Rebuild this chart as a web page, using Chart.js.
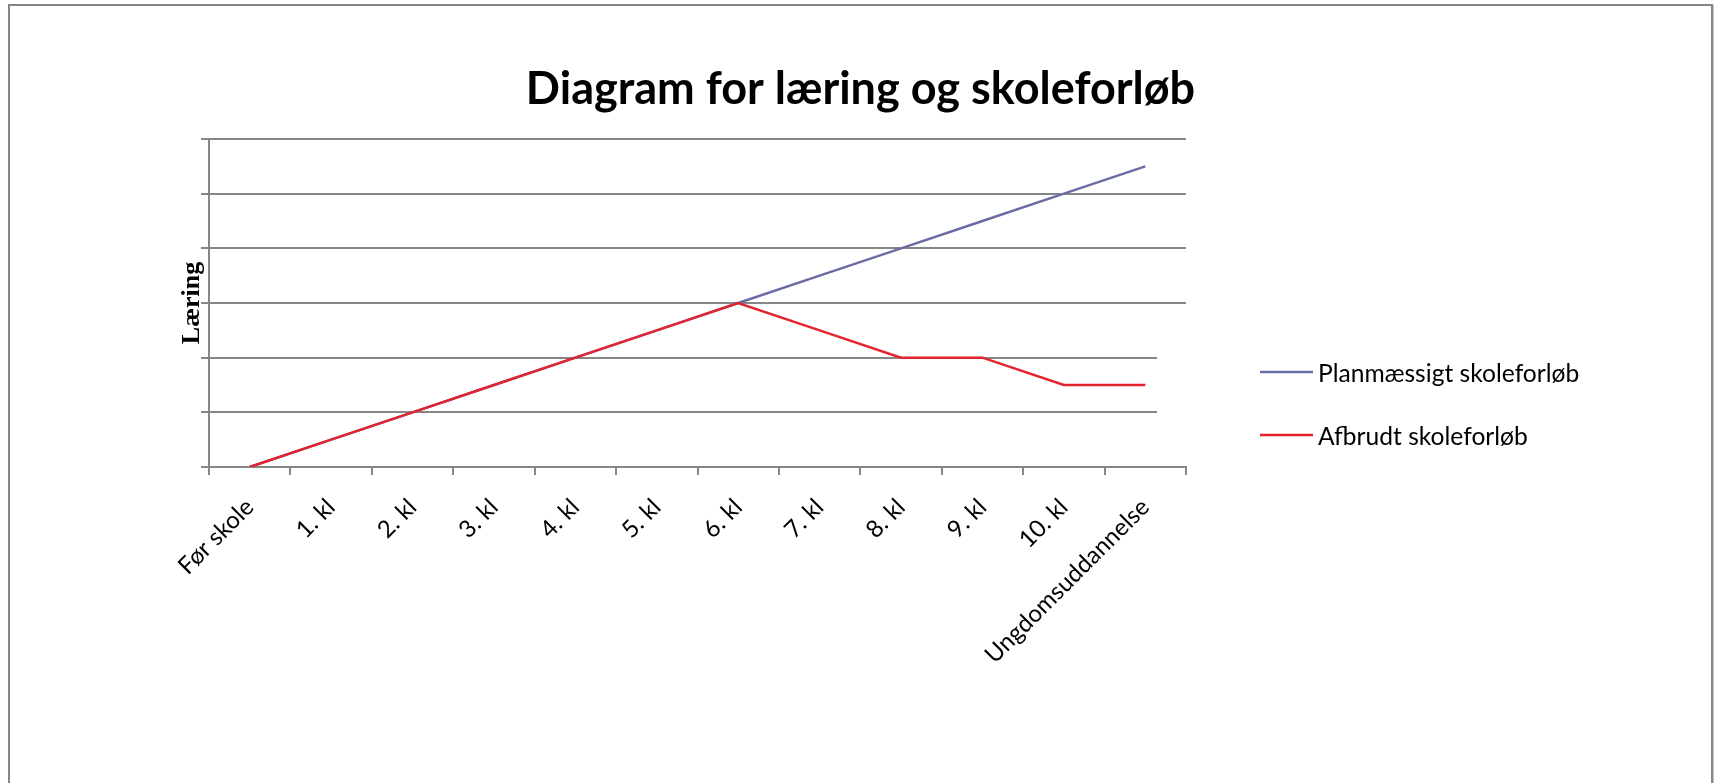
<!DOCTYPE html>
<html>
<head>
<meta charset="utf-8">
<script src="https://cdn.jsdelivr.net/npm/chart.js@4"></script>
<style>
  html, body { margin: 0; padding: 0; background: #fff; overflow: hidden; }
  #frame { position: absolute; left: 8px; top: 4px; width: 1701px; height: 820px; border: 2px solid #858585; box-shadow: 1px 1px 0 #c8c8c8; }
  #wrap { position: absolute; left: 0; top: 0; width: 1701px; height: 662px; }
</style>
</head>
<body>
<div id="frame">
  <div id="wrap"><canvas id="graphCanvas"></canvas></div>
</div>
<script>
// kategorier langs x-aksen
const categories = ['Før skole', '1. kl', '2. kl', '3. kl', '4. kl', '5. kl', '6. kl', '7. kl', '8. kl', '9. kl', '10. kl', 'Ungdomsuddannelse'];
// læring pr. trin
const plannedValues = [0, 0.5, 1, 1.5, 2, 2.5, 3, 3.5, 4, 4.5, 5, 5.5];
const interruptedValues = [0, 0.5, 1, 1.5, 2, 2.5, 3, 2.5, 2, 2, 1.5, 1.5];
const seriesNames = ['Planmæssigt skoleforløb', 'Afbrudt skoleforløb'];

const gridGray = '#868686';

// legende til højre, som Excel tegner den (hvid boks over enden af gitterlinjerne)
const excelLegend = {
    id: 'excelLegend',
    beforeDatasetsDraw(chart) {
        let y = chart.scales.y;
        let ctx = chart.ctx;
        ctx.save();
        ctx.fillStyle = '#fff';
        let top = y.getPixelForValue(2.6);
        let bottom = y.getPixelForValue(0.4);
        ctx.fillRect(chart.chartArea.right - 29, top, 40, bottom - top);
        ctx.restore();
    },
    afterDraw(chart) {
        let ctx = chart.ctx;
        let area = chart.chartArea;
        let mid = (area.top + chart.height) / 2;
        let x0 = area.right + 74;
        ctx.save();
        // skriftstørrelse så den længste tekst bliver ca. 261px bred
        ctx.font = '22px Lato';
        let w = ctx.measureText(seriesNames[0]).width;
        let size = Math.round(22 * 261 / w * 10) / 10;
        ctx.font = size + 'px Lato';
        ctx.textBaseline = 'middle';
        ctx.textAlign = 'left';
        chart.data.datasets.forEach((ds, i) => {
            let yy = mid + (i - 0.5) * 63;
            ctx.strokeStyle = ds.borderColor;
            ctx.lineWidth = ds.borderWidth;
            ctx.beginPath();
            ctx.moveTo(x0, yy);
            ctx.lineTo(x0 + 53, yy);
            ctx.stroke();
            ctx.fillStyle = '#000';
            ctx.fillText(ds.label, x0 + 58, yy + 2);
        });
        ctx.restore();
    }
};

let ctx = document.getElementById('graphCanvas').getContext('2d');
let chart = new Chart(ctx, {
    type: 'line',
    data: {
        labels: categories,
        datasets: [{
            label: seriesNames[0],
            data: plannedValues,
            borderColor: '#6a6ca6',
            backgroundColor: '#6a6ca6',
            borderWidth: 2.5,
            pointRadius: 0,
            tension: 0,
            order: 1
        }, {
            label: seriesNames[1],
            data: interruptedValues,
            borderColor: '#e3242f',
            backgroundColor: '#e3242f',
            borderWidth: 2.5,
            pointRadius: 0,
            tension: 0,
            order: 0
        }]
    },
    options: {
        responsive: true,
        maintainAspectRatio: false,
        animation: false,
        layout: { padding: 0 },
        plugins: {
            title: {
                display: true,
                text: 'Diagram for læring og skoleforløb',
                color: '#000',
                font: { family: 'Lato', size: 45, weight: 'bold' },
                padding: { top: 56, bottom: 23 }
            },
            legend: { display: false },
            tooltip: { enabled: false }
        },
        scales: {
            x: {
                offset: true,
                grid: { display: true, drawOnChartArea: false, drawTicks: true, tickLength: 8, offset: true, color: gridGray, lineWidth: 2 },
                border: { color: gridGray, width: 2 },
                ticks: { minRotation: 45, maxRotation: 45, padding: 18, color: '#000', font: { family: 'Lato', size: 24 } },
                afterFit: (scale) => { scale.height = 201; }
            },
            y: {
                min: 0,
                max: 6,
                ticks: { stepSize: 1, display: false },
                grid: { color: gridGray, lineWidth: 2, tickLength: 8 },
                border: { color: gridGray, width: 2 },
                title: {
                    display: true,
                    text: 'Læring',
                    color: '#000',
                    padding: { top: 173, bottom: 0 },
                    font: { family: 'Liberation Serif', size: 26, weight: 'bold', lineHeight: 0.7 }
                },
                afterFit: (scale) => { scale.width = 199; }
            },
            gap: {
                type: 'linear',
                position: 'right',
                display: true,
                grid: { display: false },
                border: { display: false },
                ticks: { display: false },
                afterFit: (scale) => { scale.width = 525; }
            }
        }
    },
    plugins: [excelLegend]
});
</script>
</body>
</html>
